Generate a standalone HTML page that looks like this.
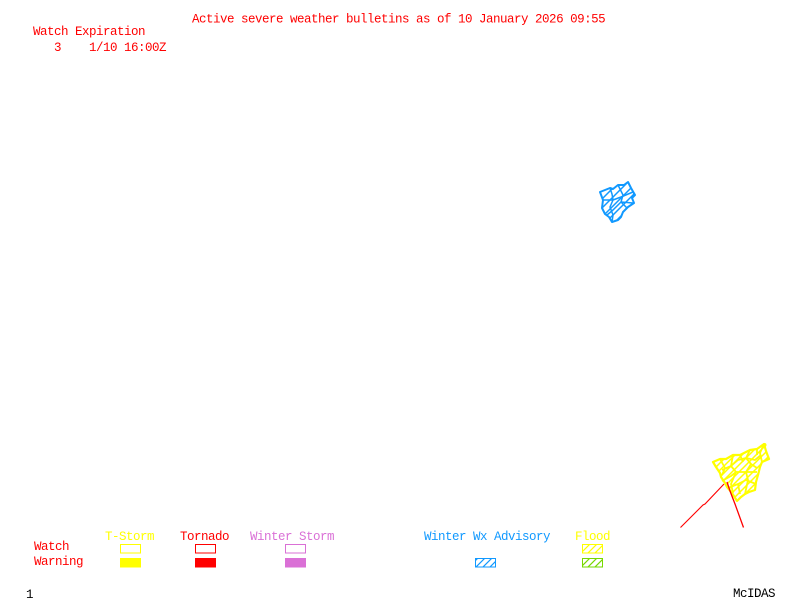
<!DOCTYPE html>
<html>
<head>
<meta charset="utf-8">
<style>
html,body{margin:0;padding:0;background:#fff;width:800px;height:600px;overflow:hidden}
svg{display:block}
text{font-family:"Liberation Mono",monospace;font-size:12.5px;letter-spacing:-0.5px;white-space:pre}
</style>
</head>
<body>
<svg width="800" height="600" viewBox="0 0 800 600" xmlns="http://www.w3.org/2000/svg">
<defs>
<pattern id="hb" patternUnits="userSpaceOnUse" width="9" height="9"><path d="M-2 2L2 -2M0 9L9 0M7 11L11 7" stroke="#1199ff" stroke-width="1.5" fill="none"/></pattern>
<pattern id="hy" patternUnits="userSpaceOnUse" width="7" height="7"><path d="M-2 2L2 -2M0 7L7 0M5 9L9 5" stroke="#ffff00" stroke-width="1.5" fill="none"/></pattern>
<pattern id="ly" patternUnits="userSpaceOnUse" width="7" height="7"><path d="M-1 1L1 -1M0 7L7 0M6 8L8 6" stroke="#ffff00" stroke-width="1.2" fill="none"/></pattern>
<pattern id="lb" patternUnits="userSpaceOnUse" width="7" height="7"><path d="M-1 1L1 -1M0 7L7 0M6 8L8 6" stroke="#1199ff" stroke-width="1.2" fill="none"/></pattern>
<pattern id="lg" patternUnits="userSpaceOnUse" width="7" height="7"><path d="M-1 1L1 -1M0 7L7 0M6 8L8 6" stroke="#76d800" stroke-width="1.2" fill="none"/></pattern>
</defs>

<g fill="#ff0000">
<text x="192" y="22.5">Active severe weather bulletins as of 10 January 2026 09:55</text>
<text x="33" y="35">Watch Expiration</text>
<text x="33" y="51">   3    1/10 16:00Z</text>
<text x="34" y="550">Watch</text>
<text x="34" y="565">Warning</text>
<text x="180" y="540">Tornado</text>
</g>
<text x="105" y="540" fill="#ffff00">T-Storm</text>
<text x="250" y="540" fill="#da70d6">Winter Storm</text>
<text x="424" y="540" fill="#1199ff">Winter Wx Advisory</text>
<text x="575" y="540" fill="#ffff00">Flood</text>
<text x="26" y="598" fill="#000">1</text>
<text x="733" y="597" fill="#000">McIDAS</text>

<!-- Blue advisory region -->
<g fill="none" stroke="#1199ff" stroke-linejoin="round">
<path d="M600 192L610 188L613 189L618 185L624 185L628 182L631 188L635 195L632 198L634 203L628 207L623 212L621 217L618 220L612 222L609 217L605 214L602 208L603 200Z" fill="url(#hb)" stroke-width="2"/>
<path d="M610 188L612 194L613 200L610 207L613 215L612 222M618 185L623 195L621 202L627 208M603 200L613 200L621 197L633 192M607 215L613 210L621 202L633 203" stroke-width="1.5"/>
</g>

<!-- Yellow warning region -->
<g fill="none" stroke="#ffff00" stroke-linejoin="round">
<path d="M713 462L720 459L726 459L733 455L740 455L750 450L757 449L764 444L766 451L769 459L762 462L760 467L758 475L756 482L755 490L749 492L745 494L741 497L737 501L732 493L727 487L725 483L721 477L720 473L716 467Z" fill="url(#hy)" stroke-width="2.2"/>
<path d="M720 459L725 468L722 475M733 455L731 466L736 472L731 484L733 493M740 455L743 462M750 450L746 458L751 464L746 472L748 480L745 494M757 449L757 455M764 444L760 453L762 462M722 470L731 466L738 460L746 458L755 460L761 455M722 481L731 476L736 472L746 472L757 472M728 488L738 484L746 480L756 484M738 484L740 494M751 464L757 468" stroke-width="1.8"/>
<circle cx="764.5" cy="445" r="2" fill="#ffff00" stroke="none"/>
</g>

<!-- Red lines -->
<g fill="none" stroke="#ff0000" stroke-width="1.1">
<path d="M680.5 527.5L703 505L705 504L724 484"/>
<path d="M727 482L730 491L735 504L743.5 527.5" stroke-width="1.3"/>
</g>

<!-- Legend -->
<g shape-rendering="crispEdges">
<rect x="120.5" y="544.5" width="20" height="8.5" fill="none" stroke="#ffff00"/>
<rect x="120" y="558" width="21" height="9.5" fill="#ffff00"/>
<rect x="195.5" y="544.5" width="20" height="8.5" fill="none" stroke="#ff0000"/>
<rect x="195" y="558" width="21" height="9.5" fill="#ff0000"/>
<rect x="285.5" y="544.5" width="20" height="8.5" fill="none" stroke="#da70d6"/>
<rect x="285" y="558" width="21" height="9.5" fill="#da70d6"/>
<rect x="475.5" y="558.5" width="20" height="8.5" fill="url(#lb)" stroke="#1199ff"/>
<rect x="582.5" y="544.5" width="20" height="8.5" fill="url(#ly)" stroke="#ffff00"/>
<rect x="582.5" y="558.5" width="20" height="8.5" fill="url(#lg)" stroke="#76d800"/>
</g>
</svg>
</body>
</html>
